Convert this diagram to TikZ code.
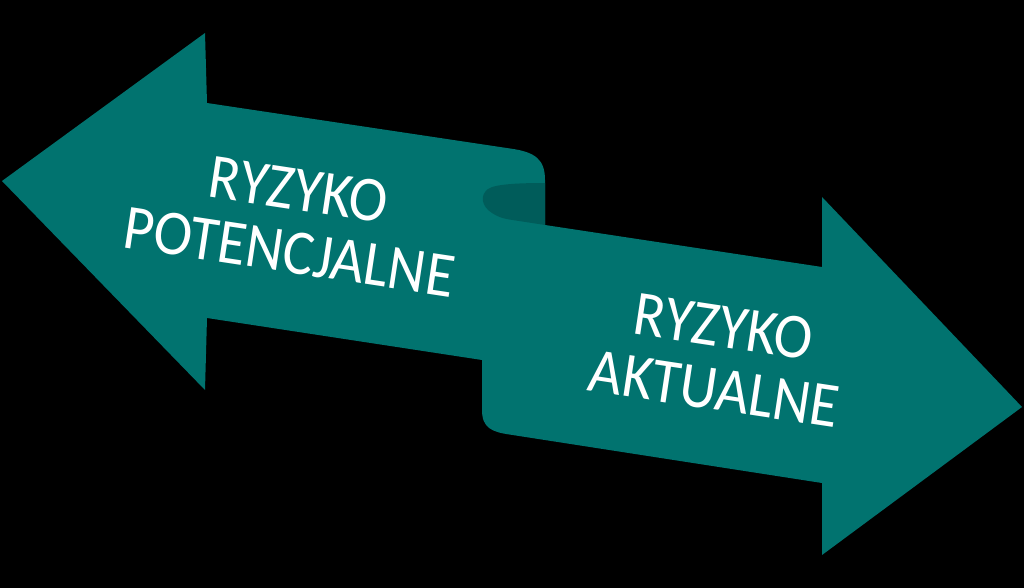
\documentclass[tikz,border=0pt]{standalone}
\usepackage{fontspec}
\setmainfont{Carlito}
\definecolor{teal1}{HTML}{01736F}
\definecolor{teal2}{HTML}{005C5A}
\newcommand{\tallline}[1]{\scalebox{1}[1.1]{#1}}
\begin{document}
\begin{tikzpicture}[x=1pt,y=-1pt,
  ribbon/.style={fill=teal1,draw=none},
  fold/.style={fill=teal2,draw=none},
  label/.style={text=white,align=center,font=\fontsize{58}{63}\selectfont,rotate=-8.6,inner sep=0pt}]
\fill[black] (0,0) rectangle (1024,588);
\useasboundingbox (0,0) rectangle (1024,588);
% ribbon (both arrows)
\path[ribbon] (2,181) -- (205,33) -- (207,103) -- (510,148.5)
  .. controls (536,152) and (545,160) .. (545,180)
  -- (545,225) -- (822,267) -- (822,197) -- (1022,407) -- (822,555) -- (822,483)
  -- (510,434.6) .. controls (492,432) and (482,428) .. (482,410)
  -- (482,360) -- (207,318) -- (205,390) -- cycle;
% fold (back side of ribbon)
\path[fold] (545,183) .. controls (520,183) and (495,184) .. (488,189)
  .. controls (480,195) and (481,206) .. (492,213)
  .. controls (498,217) and (503,218.5) .. (510,219.6)
  -- (545,225) -- cycle;
\node[label] (pot) at (294,221) {\tallline{RYZYKO}\\\tallline{POTENCJALNE}};
\node[label] (akt) at (719,358) {\tallline{RYZYKO}\\\tallline{AKTUALNE}};
\end{tikzpicture}
\end{document}
